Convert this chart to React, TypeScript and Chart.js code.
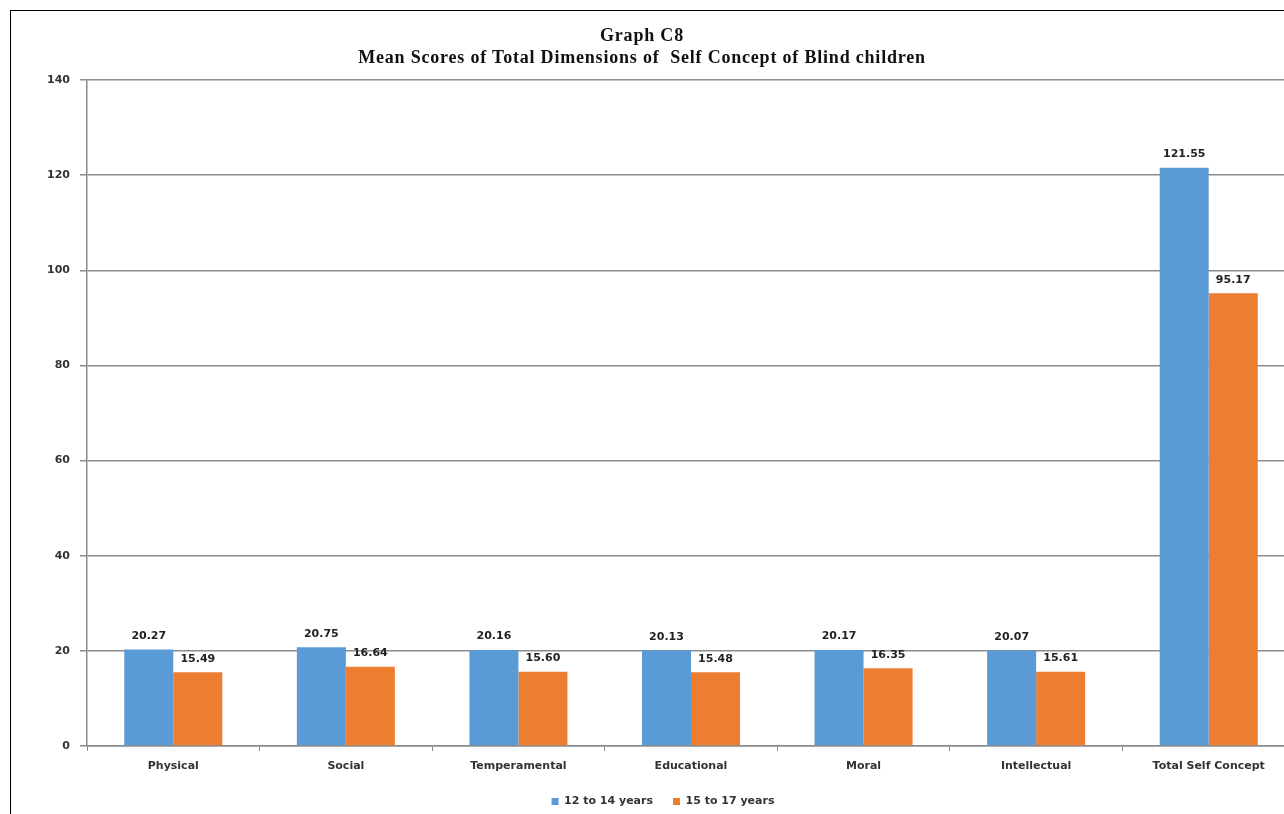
import React, { useEffect, useRef } from "react";
import { Chart, registerables } from "chart.js";

Chart.register(...registerables);

const titleLines = ["Graph C8", "Mean Scores of Total Dimensions of  Self Concept of Blind children"];
const categories = ["Physical", "Social", "Temperamental", "Educational", "Moral", "Intellectual", "Total Self Concept"];
const seriesNames = ["12 to 14 years", "15 to 17 years"];
const series1 = [20.27, 20.75, 20.16, 20.13, 20.17, 20.07, 121.55];
const series2 = [15.49, 16.64, 15.6, 15.48, 16.35, 15.61, 95.17];
const seriesColors = ["#5B9BD5", "#ED7D31"];
const yMin = 0;
const yMax = 140;
const yStep = 20;

const TICK_FONT = { family: "'DejaVu Sans', sans-serif", size: 11, weight: "bold" as const };

const dataLabelPlugin = {
  id: "dataLabels",
  afterDatasetsDraw(chart: any) {
    const ctx = chart.ctx;
    ctx.save();
    ctx.font = "bold 11px 'DejaVu Sans', sans-serif";
    ctx.fillStyle = "#222";
    ctx.textAlign = "center";
    ctx.textBaseline = "middle";
    chart.data.datasets.forEach((ds: any, i: number) => {
      const meta = chart.getDatasetMeta(i);
      meta.data.forEach((bar: any, j: number) => {
        const v = ds.data[j] as number;
        ctx.fillText(v.toFixed(2), bar.x, bar.y - 13.5);
      });
    });
    ctx.restore();
  },
};

export default function App() {
  const canvasRef = useRef<HTMLCanvasElement | null>(null);

  useEffect(() => {
    if (!canvasRef.current) return;
    const chart = new Chart(canvasRef.current, {
      type: "bar",
      data: {
        labels: categories,
        datasets: [
          { label: seriesNames[0], data: series1, backgroundColor: seriesColors[0], borderWidth: 0 },
          { label: seriesNames[1], data: series2, backgroundColor: seriesColors[1], borderWidth: 0 },
        ],
      },
      options: {
        responsive: false,
        animation: false,
        devicePixelRatio: 1,
        layout: { padding: { top: 69, left: 0, right: 0, bottom: 0 } },
        datasets: { bar: { categoryPercentage: 0.568, barPercentage: 1 } },
        plugins: {
          title: { display: false },
          tooltip: { enabled: false },
          legend: {
            position: "bottom",
            labels: {
              boxWidth: 7,
              boxHeight: 7,
              padding: 20,
              color: "#333",
              font: TICK_FONT,
            },
          },
        },
        scales: {
          x: {
            afterFit: (s: any) => {
              s.height = 30;
            },
            grid: {
              display: true,
              drawOnChartArea: false,
              drawTicks: true,
              tickLength: 5,
              color: "#8c8c8c",
              offset: true,
            },
            border: { display: true, color: "#8c8c8c", width: 1.5 },
            ticks: { color: "#333", font: TICK_FONT, padding: 9, maxRotation: 0, autoSkip: false },
          },
          y: {
            min: yMin,
            max: yMax,
            afterFit: (s: any) => {
              s.width = 76;
            },
            grid: { color: "#8c8c8c", lineWidth: 1.5, tickLength: 7 },
            border: { display: true, color: "#8c8c8c", width: 1.5 },
            ticks: { stepSize: yStep, color: "#333", font: TICK_FONT, padding: 10 },
          },
          spacer: {
            type: "linear",
            position: "right",
            display: true,
            grid: { display: false, drawTicks: false },
            border: { display: false },
            ticks: { display: false },
            afterFit: (s: any) => {
              s.width = 20;
            },
          },
        },
      } as any,
      plugins: [dataLabelPlugin],
    });
    return () => chart.destroy();
  }, []);

  return (
    <div style={{ position: "fixed", left: 0, top: 0, width: 1284, height: 814, overflow: "hidden", background: "#fff" }}>
      <div
        style={{
          position: "absolute",
          left: 10,
          top: 10,
          width: 1320,
          height: 840,
          borderLeft: "1px solid #000",
          borderTop: "1px solid #000",
        }}
      >
        <canvas ref={canvasRef} width={1304} height={806} style={{ position: "absolute", left: 0, top: 0, display: "block" }} />
        <div
          style={{
            position: "absolute",
            left: 0,
            top: 13,
            width: 1262,
            textAlign: "center",
            fontFamily: "'Liberation Serif', serif",
            fontWeight: "bold",
            fontSize: 18,
            letterSpacing: "0.8px",
            lineHeight: "22px",
            color: "#111",
          }}
        >
          {titleLines.map((t, i) => (
            <div key={i} style={{ whiteSpace: "pre" }}>{t}</div>
          ))}
        </div>
      </div>
    </div>
  );
}
